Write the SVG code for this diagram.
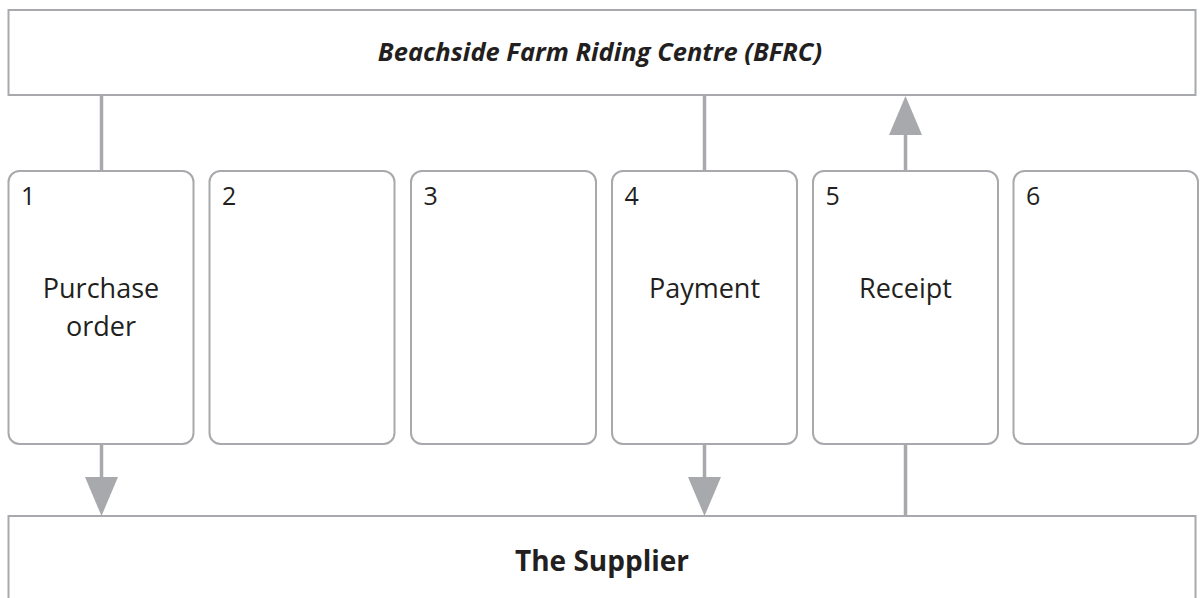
<svg xmlns="http://www.w3.org/2000/svg" width="1200" height="598" viewBox="0 0 1200 598">
<style>
.box{fill:#fff;stroke:#a7a9ac;stroke-width:2}
.step{fill:#fff;stroke:#a7a9ac;stroke-width:2}
.line{stroke:#a7a9ac;stroke-width:3.5;fill:none}
.head{fill:#a7a9ac}
text{font-family:"Open Sans","Liberation Sans",sans-serif;fill:#231f20}
.num{font-size:25px}
.lbl{font-size:27px;text-anchor:middle}
.title{font-size:25.5px;font-weight:bold;font-style:italic;text-anchor:middle}
.sup{font-size:28px;font-weight:bold;text-anchor:middle}
</style>
<g id="bfrc">
<rect class="box" x="8.5" y="10" width="1187" height="85"/>
<text class="title" x="600" y="61">Beachside Farm Riding Centre (BFRC)</text>
</g>
<g id="supplier">
<rect class="box" x="8.5" y="516" width="1187" height="100"/>
<text class="sup" x="602" y="571">The Supplier</text>
</g>
<g id="connectors">
<line class="line" x1="101.5" y1="95" x2="101.5" y2="171"/>
<line class="line" x1="101.5" y1="444" x2="101.5" y2="480"/>
<polygon class="head" points="85,477 118,477 101.5,516"/>
<line class="line" x1="704.5" y1="95" x2="704.5" y2="171"/>
<line class="line" x1="704.5" y1="444" x2="704.5" y2="480"/>
<polygon class="head" points="688,477 721,477 704.5,516"/>
<line class="line" x1="905.5" y1="516" x2="905.5" y2="132"/>
<polygon class="head" points="889,135 922,135 905.5,96"/>
</g>
<g id="step1">
<rect class="step" x="8.5" y="171" width="185" height="273" rx="11"/>
<text class="num" x="21" y="205">1</text>
<text class="lbl" x="101" y="298">Purchase</text>
<text class="lbl" x="101" y="336">order</text>
</g>
<g id="step2">
<rect class="step" x="209.5" y="171" width="185" height="273" rx="11"/>
<text class="num" x="222" y="205">2</text>
</g>
<g id="step3">
<rect class="step" x="411" y="171" width="185" height="273" rx="11"/>
<text class="num" x="423.5" y="205">3</text>
</g>
<g id="step4">
<rect class="step" x="612" y="171" width="185" height="273" rx="11"/>
<text class="num" x="624.5" y="205">4</text>
<text class="lbl" x="704.5" y="298">Payment</text>
</g>
<g id="step5">
<rect class="step" x="813" y="171" width="185" height="273" rx="11"/>
<text class="num" x="825.5" y="205">5</text>
<text class="lbl" x="905.5" y="298">Receipt</text>
</g>
<g id="step6">
<rect class="step" x="1013.5" y="171" width="184.5" height="273" rx="11"/>
<text class="num" x="1026" y="205">6</text>
</g>
</svg>
